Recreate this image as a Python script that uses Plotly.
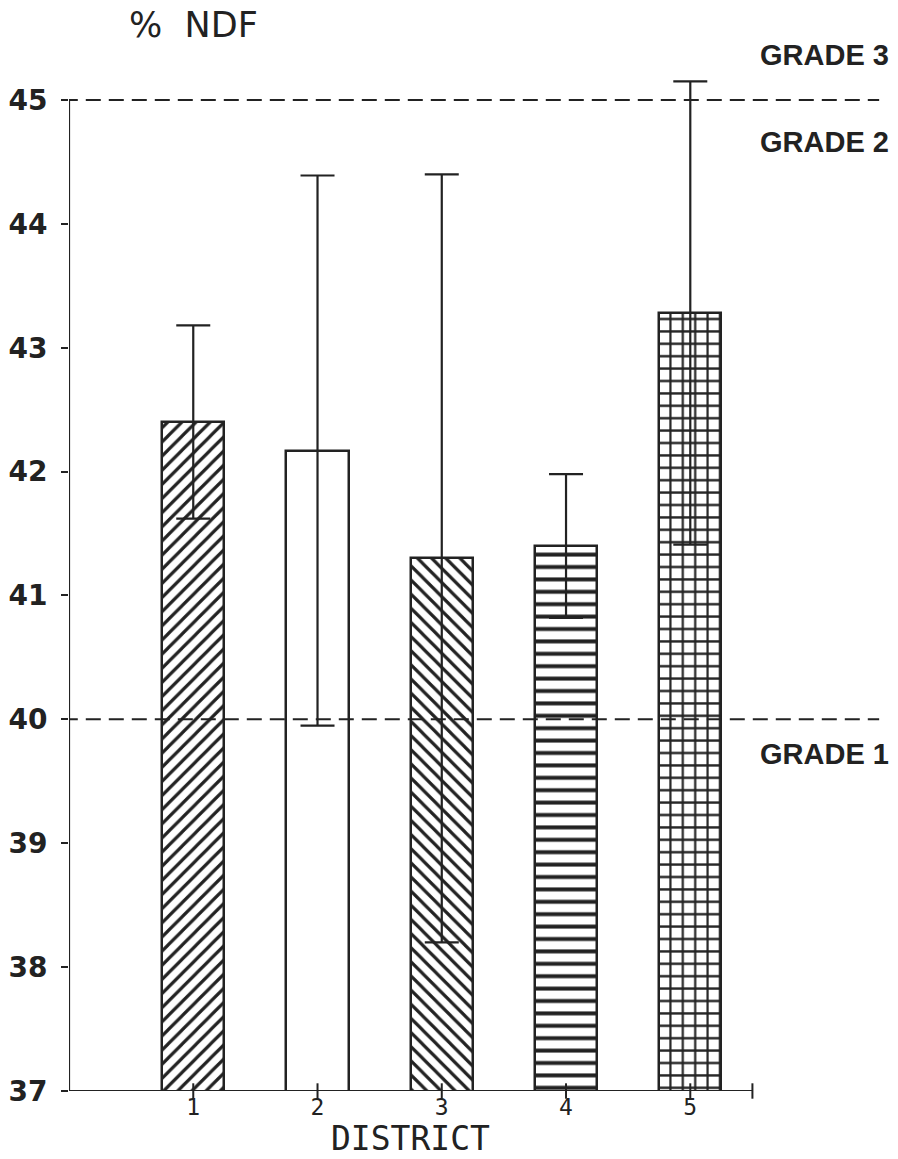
import plotly.graph_objects as go

# District means of % NDF with their error ranges
districts = [1, 2, 3, 4, 5]
ndf_mean = [42.40, 42.17, 41.30, 41.40, 43.28]
ndf_err = [0.78, 2.22, 3.10, 0.58, 1.87]
fill_patterns = ["/", "", "\\", "-", "+"]
pattern_sizes = [10, 10, 10, 12.4, 12.4]

# Grade thresholds (dashed lines) and their labels
grade_limits = [40, 45]
grade_labels = ["GRADE 1", "GRADE 2", "GRADE 3"]

y_ticks = [37, 38, 39, 40, 41, 42, 43, 44, 45]
y_min, y_max = 37, 45
x_axis_end = 5.5

INK = "#222222"

fig = go.Figure()

fig.add_trace(go.Bar(
    x=districts,
    y=ndf_mean,
    width=0.5,
    marker=dict(
        color="white",
        line=dict(color=INK, width=2.5),
        pattern=dict(shape=fill_patterns, size=pattern_sizes, solidity=0.32,
                     fgcolor=INK, bgcolor="white", fillmode="replace"),
    ),
    error_y=dict(type="data", array=ndf_err, visible=True,
                 color=INK, thickness=2.2, width=17),
    hoverinfo="skip",
    showlegend=False,
))

# small cross ticks on the district axis
fig.add_trace(go.Scatter(
    x=districts + [x_axis_end],
    y=[y_min] * (len(districts) + 1),
    mode="markers",
    marker=dict(symbol="line-ns-open", size=11, color=INK,
                line=dict(color=INK, width=2)),
    cliponaxis=False,
    hoverinfo="skip",
    showlegend=False,
))

# axis lines
fig.add_shape(type="line", xref="x", yref="y", x0=0, x1=0, y0=y_min, y1=y_max,
              line=dict(color=INK, width=2.2))
fig.add_shape(type="line", xref="x", yref="y", x0=0, x1=x_axis_end, y0=y_min, y1=y_min,
              line=dict(color=INK, width=2.2))

# grade threshold lines
for g in grade_limits:
    fig.add_shape(type="line", xref="x", yref="y", x0=-0.05, x1=6.52, y0=g, y1=g,
                  line=dict(color=INK, width=2, dash="15px,8px"))

label_font = dict(family="Liberation Sans", size=29, color=INK, weight="bold")
fig.add_annotation(x=1.007, xref="paper", xanchor="right", y=grade_limits[0], yref="y",
                   yshift=-35, text=grade_labels[0], showarrow=False, font=label_font)
fig.add_annotation(x=1.007, xref="paper", xanchor="right", y=grade_limits[1], yref="y",
                   yshift=-42, text=grade_labels[1], showarrow=False, font=label_font)
fig.add_annotation(x=1.007, xref="paper", xanchor="right", y=grade_limits[1], yref="y",
                   yshift=45, text=grade_labels[2], showarrow=False, font=label_font)

# axis titles
fig.add_annotation(x=0.152, xref="paper", xanchor="center", y=1.0143, yref="paper",
                   yanchor="middle", text="%  NDF", showarrow=False,
                   font=dict(family="DejaVu Sans", size=35, color=INK))
fig.add_annotation(x=x_axis_end / 2, xref="x", xanchor="center", y=-0.0647, yref="paper",
                   yanchor="bottom", text="DISTRICT", showarrow=False, borderpad=0,
                   font=dict(family="DejaVu Sans Mono", size=33, color=INK))

fig.update_layout(
    width=898, height=1159,
    margin=dict(l=69, r=13, t=40, b=68),
    paper_bgcolor="white", plot_bgcolor="white",
    xaxis=dict(range=[0, 6.567], tickvals=districts, ticktext=[str(d) for d in districts],
               ticks="", showgrid=False, zeroline=False, showline=False,
               ticklabelstandoff=0, automargin=False,
               tickfont=dict(family="DejaVu Sans Mono", size=23, color=INK)),
    yaxis=dict(range=[y_min, 45.484], tickvals=y_ticks, ticks="outside", ticklen=7,
               tickwidth=2, tickcolor=INK, showgrid=False, zeroline=False, showline=False,
               ticklabelstandoff=8, automargin=False,
               tickfont=dict(family="DejaVu Sans", size=28, color=INK, weight="bold")),
    bargap=0,
)

fig.write_html("out.html")
